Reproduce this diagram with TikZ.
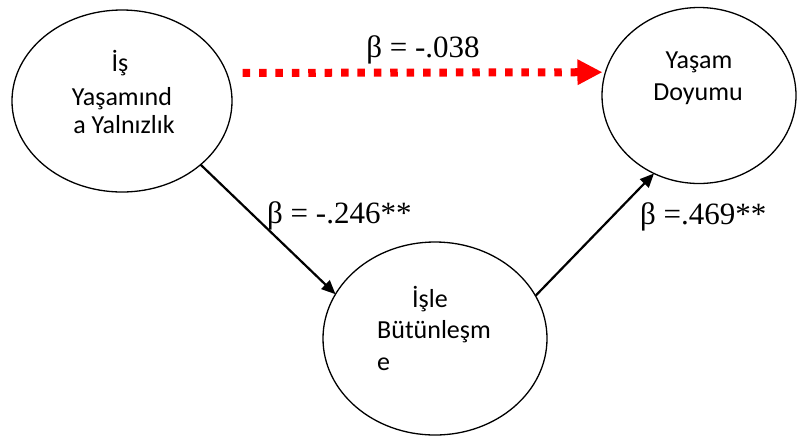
\documentclass[tikz,border=0pt]{standalone}
\usepackage{fontspec}
\setmainfont{Liberation Serif}
\newfontfamily\calibrifont{Carlito}
\usetikzlibrary{arrows.meta,shapes.geometric}
\begin{document}
\begin{tikzpicture}[x=1pt,y=-1pt,
  bubble/.style={draw,ellipse,line width=1.3pt,inner sep=0pt,outer sep=0pt},
  intext/.style={font=\calibrifont\fontsize{26}{31}\selectfont,anchor=base,inner sep=0pt},
  betalabel/.style={font=\fontsize{31}{37}\selectfont,anchor=base,inner sep=0pt},
  link/.style={line width=2.2pt,-{Triangle[length=14pt,width=12pt]}},
  redlink/.style={line width=8pt,red,dash pattern=on 7.5pt off 8.9pt,
     -{Triangle[length=25pt,width=24pt]}}]
\useasboundingbox (0,0) rectangle (797,437);
% ellipses
\node[bubble,minimum width=220pt,minimum height=182pt] (e1) at (122,101) {};
\node[bubble,minimum width=194pt,minimum height=176pt] (e2) at (699,95.5) {};
\node[bubble,minimum width=224pt,minimum height=193pt] (e3) at (435,338.5) {};
% texts in ellipses
\node[intext] (t1a) at (120,71) {İş};
\node[intext] (t1b) at (122,105) {Yaşamınd};
\node[intext] (t1c) at (124,133) {a Yalnızlık};
\node[intext] (t2a) at (699,68) {Yaşam};
\node[intext] (t2b) at (698,100) {Doyumu};
\node[intext] (t3a) at (430,307) {İşle};
\node[intext,anchor=base west] (t3b) at (377,338) {Bütünleşm};
\node[intext,anchor=base west] (t3c) at (377,370) {e};
% connectors
\draw[redlink,shorten <=16pt,shorten >=3pt] (e1.15.54) -- (e2.166.2);
\draw[link] (e1.-39.6) -- (e3.156.8);
\draw[link] (e3.23.6) -- (e2.-120.5);
% labels
\node[betalabel] (b1) at (423,57) {β = -.038};
\node[betalabel,anchor=base west] (b2) at (267,223) {β = -.246**};
\node[betalabel,anchor=base west] (b3) at (640,224) {β =.469**};
\end{tikzpicture}
\end{document}
